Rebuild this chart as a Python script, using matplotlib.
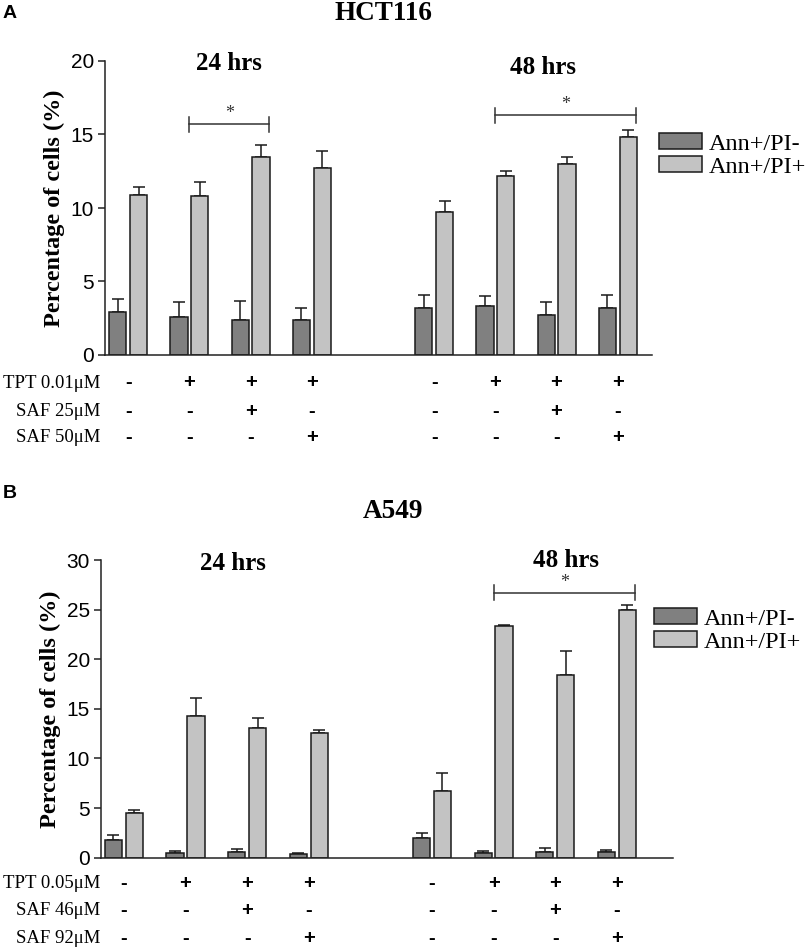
import matplotlib
matplotlib.use("Agg")
import matplotlib.pyplot as plt
from matplotlib.patches import Patch
from matplotlib.transforms import blended_transform_factory
import numpy as np

# group positions: 4 treatments at 24 hrs, gap, 4 treatments at 48 hrs
positions = [0, 1, 2, 3, 5, 6, 7, 8]
series_labels = ["Ann+/PI-", "Ann+/PI+"]

# panel A - HCT116
hct_dark = [2.9, 2.6, 2.4, 2.4, 3.2, 3.3, 2.7, 3.2]
hct_dark_err = [0.9, 1.0, 1.3, 0.8, 0.9, 0.7, 0.9, 0.9]
hct_light = [10.9, 10.8, 13.5, 12.7, 9.7, 12.2, 13.0, 14.8]
hct_light_err = [0.5, 1.0, 0.8, 1.2, 0.8, 0.3, 0.5, 0.5]
hct_rows = ["TPT 0.01\u03bcM", "SAF 25\u03bcM", "SAF 50\u03bcM"]

# panel B - A549
a549_dark = [1.8, 0.5, 0.6, 0.35, 2.0, 0.5, 0.6, 0.6]
a549_dark_err = [0.45, 0.15, 0.3, 0.1, 0.45, 0.15, 0.35, 0.15]
a549_light = [4.5, 14.3, 13.1, 12.6, 6.75, 23.3, 18.45, 25.0]
a549_light_err = [0.3, 1.8, 1.0, 0.3, 1.8, 0.1, 2.4, 0.5]
a549_rows = ["TPT 0.05\u03bcM", "SAF 46\u03bcM", "SAF 92\u03bcM"]

# +/- treatment table (same for both panels)
treat_signs = [
    ["-", "+", "+", "+", "-", "+", "+", "+"],
    ["-", "-", "+", "-", "-", "-", "+", "-"],
    ["-", "-", "-", "+", "-", "-", "-", "+"],
]

W, H = 809, 947
SERIF = "Liberation Serif"
SANS = "Liberation Sans"
DARK = "#808080"
LIGHT = "#c3c3c3"


def fx(px):
    return px / W


def fy(py):
    return 1 - py / H


fig = plt.figure(figsize=(W / 100, H / 100), dpi=100)


def panel(box, xlim, ylim, yticks, dark, dark_err, light, light_err,
          row_names, row_y, sig, legend_xy):
    left, top, right, bottom = box
    ax = fig.add_axes([fx(left), fy(bottom), fx(right - left), (bottom - top) / H])
    pos = np.array(positions, dtype=float)
    bw = 0.28
    off = 0.17
    ax.bar(pos - off, dark, bw, color=DARK, edgecolor="#1a1a1a", linewidth=1.1, zorder=2)
    ax.bar(pos + off, light, bw, color=LIGHT, edgecolor="#1a1a1a", linewidth=1.1, zorder=2)
    ax.errorbar(pos - off, dark, yerr=[np.zeros(len(dark)), dark_err], fmt="none",
                ecolor="#1a1a1a", elinewidth=1.1, capsize=4, capthick=1.1, zorder=1)
    ax.errorbar(pos + off, light, yerr=[np.zeros(len(light)), light_err], fmt="none",
                ecolor="#1a1a1a", elinewidth=1.1, capsize=4, capthick=1.1, zorder=1)
    ax.set_xlim(*xlim)
    ax.set_ylim(*ylim)
    ax.set_yticks(yticks)
    ax.set_xticks([])
    for s in ["top", "right"]:
        ax.spines[s].set_visible(False)
    for s in ["left", "bottom"]:
        ax.spines[s].set_linewidth(1.1)
        ax.spines[s].set_color("#222222")
    ax.tick_params(axis="y", direction="out", length=5, width=1.1, pad=3,
                   labelsize=15, colors="#222222")
    for lab in ax.get_yticklabels():
        lab.set_fontfamily(SANS)
        lab.set_color("black")
    ax.set_ylabel("Percentage of cells (%)", fontfamily=SERIF, fontweight="bold",
                  fontsize=17.5, labelpad=4)

    # significance brackets (group indices)
    for i0, i1, yv in sig:
        x0 = positions[i0]
        x1 = positions[i1] + 0.3
        ax.plot([x0, x1], [yv, yv], color="#333333", lw=1.1, clip_on=False)
        span = (ylim[1] - ylim[0]) * 0.025
        for xe in (x0, x1):
            ax.plot([xe, xe], [yv - span, yv + span], color="#333333", lw=1.1, clip_on=False)
        ax.text((x0 + x1) / 2, yv + span * 0.3, "*", ha="center", va="bottom",
                fontfamily=SERIF, fontsize=13, color="#333333")

    # treatment table
    tr = blended_transform_factory(ax.transData, fig.transFigure)
    for r, name in enumerate(row_names):
        fig.text(fx(100), fy(row_y[r]), name, ha="right", va="center",
                 fontfamily=SERIF, fontsize=13.5)
        for c, sgn in enumerate(treat_signs[r]):
            ax.text(positions[c], fy(row_y[r]), sgn, transform=tr, ha="center",
                    va="center", fontfamily=SANS, fontweight="bold", fontsize=14.5,
                    clip_on=False)

    handles = [Patch(facecolor=DARK, edgecolor="#1a1a1a", linewidth=1.1),
               Patch(facecolor=LIGHT, edgecolor="#1a1a1a", linewidth=1.1)]
    fig.legend(handles, series_labels, loc="upper left",
               bbox_to_anchor=(fx(legend_xy[0]), fy(legend_xy[1])),
               frameon=False, borderpad=0, borderaxespad=0,
               handlelength=1.75, handleheight=0.66, handletextpad=0.3,
               labelspacing=0.05, prop={"family": SERIF, "size": 17.5})
    return ax


# panel A
panel((105, 61, 652, 355), (-0.38, 8.56), (0, 20), [0, 5, 10, 15, 20],
      hct_dark, hct_dark_err, hct_light, hct_light_err,
      hct_rows, [383, 411, 437], [(1, 2, 15.7), (5, 7, 16.3)], (659, 133))
fig.text(fx(3), fy(13), "A", ha="left", va="center", fontfamily=SANS,
         fontweight="bold", fontsize=14)
fig.text(fx(383), fy(14), "HCT116", ha="center", va="center", fontfamily=SERIF,
         fontweight="bold", fontsize=19.5)
fig.text(fx(229), fy(63), "24 hrs", ha="center", va="center", fontfamily=SERIF,
         fontweight="bold", fontsize=18)
fig.text(fx(543), fy(67), "48 hrs", ha="center", va="center", fontfamily=SERIF,
         fontweight="bold", fontsize=18)

# panel B
panel((101, 560, 673, 857.7), (-0.37, 8.91), (0, 30), [0, 5, 10, 15, 20, 25, 30],
      a549_dark, a549_dark_err, a549_light, a549_light_err,
      a549_rows, [883, 910, 938], [(5, 7, 26.7)], (654, 608))
fig.text(fx(3), fy(493), "B", ha="left", va="center", fontfamily=SANS,
         fontweight="bold", fontsize=14)
fig.text(fx(393), fy(512), "A549", ha="center", va="center", fontfamily=SERIF,
         fontweight="bold", fontsize=19.5)
fig.text(fx(233), fy(563), "24 hrs", ha="center", va="center", fontfamily=SERIF,
         fontweight="bold", fontsize=18)
fig.text(fx(566), fy(560), "48 hrs", ha="center", va="center", fontfamily=SERIF,
         fontweight="bold", fontsize=18)

fig.savefig("out.png", dpi=100)
